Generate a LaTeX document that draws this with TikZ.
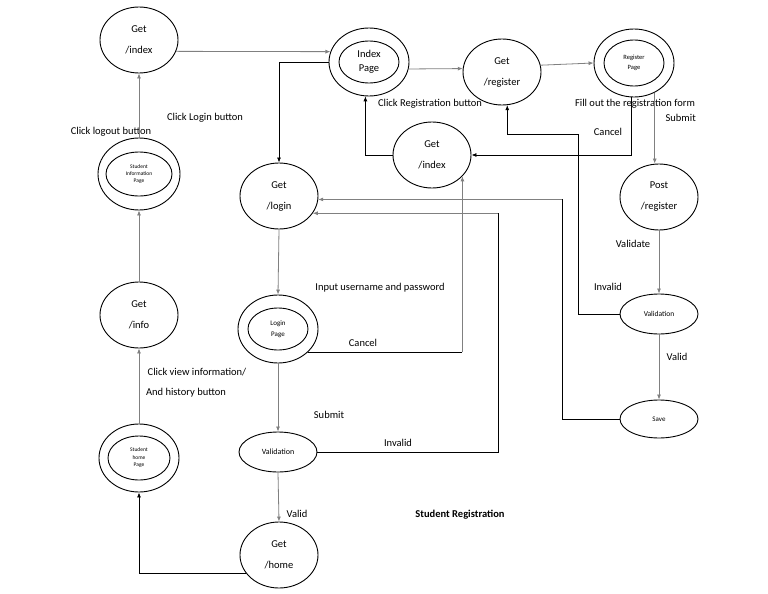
\documentclass[tikz,border=0pt]{standalone}
\usepackage{fontspec}
\setmainfont{Carlito}
\usetikzlibrary{shapes.geometric,arrows.meta,calc}
\begin{document}
\begin{tikzpicture}[x=1pt,y=-1pt,
  ell/.style={ellipse,draw,line width=0.9pt,minimum width=78pt,minimum height=66pt,inner sep=0pt,align=center,font=\fontsize{10.5}{21}\selectfont},
  outer/.style={ellipse,draw,line width=0.9pt,minimum width=80pt,minimum height=68pt,inner sep=0pt},
  inner/.style={ellipse,draw,line width=0.9pt,minimum width=60pt,minimum height=42pt,inner sep=0pt,align=center},
  small/.style={ellipse,draw,line width=0.9pt,minimum width=78pt,minimum height=40pt,inner sep=0pt,align=center},
  lbl/.style={inner sep=0pt,font=\fontsize{10.5}{12}\selectfont},
  tip/.style={-{Latex[length=5pt,width=4pt]}},
  blk/.style={draw=black,line width=0.8pt},
  gry/.style={draw=black!50,line width=0.8pt},
  barr/.style={blk,tip},
  garr/.style={gry,tip}]
\useasboundingbox (0,0) rectangle (768,594);
\fill[white] (0,0) rectangle (768,594);

% nodes
\node[ell] (gi) at (139,40) {Get\\/index};
\node[outer] (ip) at (369,62) {};
\node[inner,font=\fontsize{10.5}{14}\selectfont] (ipi) at (ip.center) {Index\\Page};
\node[ell] (gr) at (502,72) {Get\\/register};
\node[outer] (rp) at (634,63) {};
\node[inner,minimum height=46pt,font=\fontsize{6.5}{10}\selectfont] (rpi) at (rp.center) {Register\\Page};
\node[ell] (gim) at (432,155) {Get\\/index};
\node[ell] (pr) at (659,197) {Post\\/register};
\node[ell] (gl) at (279,196) {Get\\/login};
\node[outer,minimum width=82pt,minimum height=72pt] (si) at (139,174) {};
\node[inner,minimum width=66pt,minimum height=44pt,font=\fontsize{5.5}{7}\selectfont] (sii) at (si.center) {Student\\Information\\Page};
\node[ell] (ginfo) at (139,315) {Get\\/info};
\node[outer] (lp) at (278,329) {};
\node[inner,font=\fontsize{7}{11}\selectfont] (lpi) at (lp.center) {Login\\Page};
\node[small,font=\fontsize{8}{10}\selectfont] (vl) at (278,452) {Validation};
\node[ell] (gh) at (279,555) {Get\\/home};
\node[outer] (shp) at (139,458) {};
\node[inner,minimum width=62pt,minimum height=44pt,font=\fontsize{5.5}{7.5}\selectfont] (shpi) at (shp.center) {Student\\home\\Page};
\node[small,font=\fontsize{7.5}{9}\selectfont] (vr) at (659,314) {Validation};
\node[small,minimum height=38pt,font=\fontsize{7}{9}\selectfont] (sv) at (659,419) {Save};

% labels
\node[lbl] (t1) at (205,118) {Click Login button};
\node[lbl] (t2) at (111,132) {Click logout button};
\node[lbl] (t3) at (430,104) {Click Registration button};
\node[lbl] (t4) at (635,104) {Fill out the registration form};
\node[lbl,anchor=east] (t5) at (696,118) {Submit};
\node[lbl] (t6) at (608,132) {Cancel};
\node[lbl] (t7) at (380,288) {Input username and password};
\node[lbl] (t8) at (363,343) {Cancel};
\node[lbl] (t9) at (329,415) {Submit};
\node[lbl] (t10) at (398,443) {Invalid};
\node[lbl] (t11) at (633,244) {Validate};
\node[lbl] (t12) at (608,287) {Invalid};
\node[lbl] (t13) at (677,357) {Valid};
\node[lbl] (t14) at (197,372) {Click view information/};
\node[lbl] (t15) at (186,393) {And history button};
\node[lbl] (t16) at (297,514) {Valid};
\node[lbl,font=\fontsize{10.5}{12}\selectfont\bfseries] (t17) at (460,515) {Student Registration};

% helper coordinates
\coordinate (k9a) at (578,134);
\coordinate (k10x) at (562,0);
\coordinate (k11x) at (498,0);
\coordinate (k10) at (gl.-5 -| k10x);
\coordinate (k11) at (gl.-27 -| k11x);
\coordinate (k8) at (lp.-38 -| gim.-35);

% connectors
\draw[garr] (gi.-17) -- (ip.165);
\draw[barr] (ip.west) -| (gl.north);
\draw[garr] (ip.-10) -- (gr.175);
\draw[garr] (gr.10) -- (rp.west);
\draw[barr] (gim.west) -| (ip.-96);
\draw[barr] (rp.-95) |- (gim.east);
\draw[garr] (rp.-55) -- (rp.-55 |- pr.north);
\draw[blk] (lp.-38) -- (k8);
\draw[garr] (k8) -- (gim.-35);
\draw[barr] (vr.west) -| (k9a) -| (gr.-81);
\draw[blk] (sv.west) -| (k10);
\draw[garr] (k10) -- (gl.-5);
\draw[blk] (vl.east) -| (k11);
\draw[garr] (k11) -- (gl.-27);
\draw[garr] (pr.south) -- (vr.north);
\draw[garr] (vr.south) -- (sv.north);
\draw[garr] (gl.south) -- (lp.north);
\draw[garr] (lp.south) -- (vl.north);
\draw[garr] (vl.south) -- (gh.north);
\draw[barr] (gh.-151) -| (shp.south);
\draw[garr] (shp.north) -- (ginfo.south);
\draw[garr] (ginfo.north) -- (si.south);
\draw[garr] (si.north) -- (gi.south);
\end{tikzpicture}
\end{document}
